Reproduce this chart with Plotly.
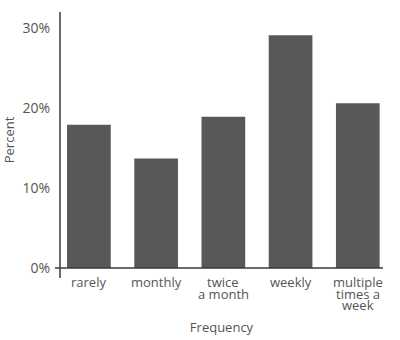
import plotly.graph_objects as go

categories = ["rarely", "monthly", "twice\na month", "weekly", "multiple\ntimes a\nweek"]
percent_values = [17.9, 13.7, 18.9, 29.1, 20.6]
y_tick_values = [0, 10, 20, 30]
y_tick_labels = ["0%", "10%", "20%", "30%"]

BAR_COLOR = "#58585a"
TEXT_COLOR = "#555555"
LINE_COLOR = "#3a3a3a"
FONT = "Open Sans"

idx = list(range(len(categories)))

fig = go.Figure(go.Bar(x=idx, y=percent_values, marker_color=BAR_COLOR,
                       marker_line_width=0, width=0.65))

annotations = []
for i, lab in enumerate(categories):
    for j, line in enumerate(lab.split("\n")):
        annotations.append(dict(x=i, y=0, xref="x", yref="y", text=line,
                                showarrow=False, yanchor="middle", xanchor="center",
                                yshift=-(14 + j * 11.5),
                                font=dict(family=FONT, size=13, color=TEXT_COLOR)))

shapes = [
    dict(type="line", xref="paper", yref="paper", x0=0, x1=0, y0=-10/256, y1=1,
         line=dict(color=LINE_COLOR, width=1.5)),
    dict(type="line", xref="paper", yref="paper", x0=-5/323, x1=1, y0=0, y1=0,
         line=dict(color=LINE_COLOR, width=1.5)),
]

fig.update_layout(
    width=400, height=340,
    margin=dict(l=60, r=17, t=12, b=72),
    plot_bgcolor="white", paper_bgcolor="white",
    showlegend=False,
    font=dict(family=FONT, color=TEXT_COLOR),
    annotations=annotations,
    shapes=shapes,
    xaxis=dict(range=[-0.43, 4.375], showticklabels=False, showgrid=False,
               zeroline=False, showline=False, ticks="", automargin=False,
               title=dict(text="Frequency", font=dict(family=FONT, size=13, color=TEXT_COLOR),
                          standoff=54)),
    yaxis=dict(range=[0, 32], tickvals=y_tick_values, ticktext=y_tick_labels,
               showgrid=False, zeroline=False, showline=False, ticks="", automargin=False,
               tickfont=dict(family=FONT, size=14, color=TEXT_COLOR),
               ticklabelstandoff=9,
               title=dict(text="Percent", font=dict(family=FONT, size=13, color=TEXT_COLOR),
                          standoff=6)),
)

fig.write_html("out.html")
